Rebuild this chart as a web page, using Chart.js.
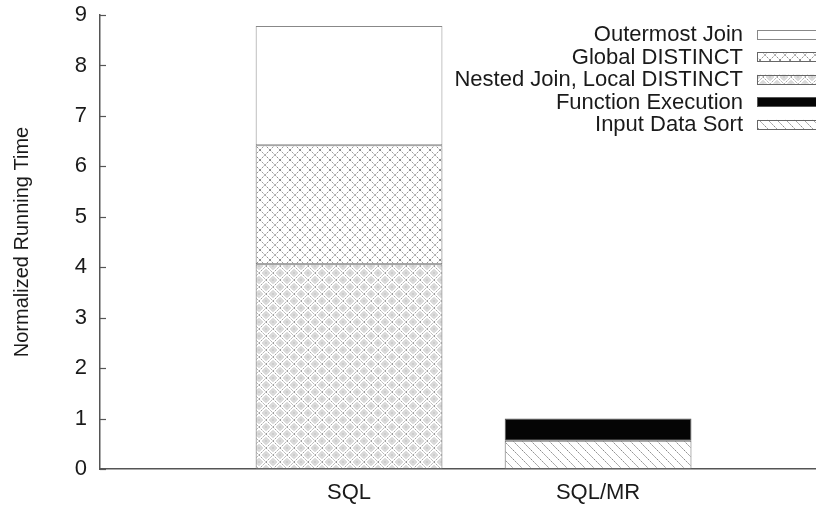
<!DOCTYPE html>
<html>
<head>
<meta charset="utf-8">
<script src="https://cdn.jsdelivr.net/npm/chart.js@4/dist/chart.umd.min.js"></script>
<style>
  html, body { margin: 0; padding: 0; background: #fff; overflow: hidden; }
  #wrap { width: 816px; height: 505px; }
</style>
</head>
<body>
<div id="wrap"><canvas id="c" width="816" height="505"></canvas></div>
<script>
// ---- data ----
const categories = ['SQL', 'SQL/MR'];
const categoryX = [1, 2];
const nestedJoinLocalDistinct = [4.06, null];
const globalDistinct = [2.36, null];
const outermostJoin = [2.36, null];
const inputDataSort = [null, 0.56];
const functionExecution = [null, 0.44];
const yTicks = [0, 1, 2, 3, 4, 5, 6, 7, 8, 9];
const yTitle = 'Normalized Running Time';

const FONT = "'Liberation Sans', Arial, Helvetica, sans-serif";

// ---- patterns ----
function tile(size, draw) {
  const cv = document.createElement('canvas');
  cv.width = size; cv.height = size;
  const g = cv.getContext('2d');
  g.fillStyle = '#fff';
  g.fillRect(0, 0, size, size);
  draw(g, size);
  return document.getElementById('c').getContext('2d').createPattern(cv, 'repeat');
}
const patGlobal = tile(10, (g, s) => {
  g.strokeStyle = '#8a8a8a'; g.lineWidth = 1;
  g.setLineDash([1.5, 1]);
  g.beginPath();
  g.moveTo(0, 0); g.lineTo(s, s);
  g.moveTo(0, s); g.lineTo(s, 0);
  g.stroke();
});
const patNested = tile(14, (g, s) => {
  g.strokeStyle = '#9a9a9a'; g.lineWidth = 1;
  g.setLineDash([1.5, 1]);
  g.beginPath();
  g.moveTo(0, 0); g.lineTo(s, s);
  g.moveTo(0, s); g.lineTo(s, 0);
  g.stroke();
  g.setLineDash([]);
  g.strokeStyle = '#b5b5b5';
  const pts = [[s/2, 0], [0, s/2], [s, s/2], [s/2, s]];
  pts.forEach(([x, y]) => {
    g.beginPath();
    g.moveTo(x, y - 3.5); g.lineTo(x + 3.5, y); g.lineTo(x, y + 3.5); g.lineTo(x - 3.5, y); g.closePath();
    g.stroke();
    g.beginPath(); g.arc(x, y, 1.2, 0, Math.PI * 2); g.stroke();
  });
});
const patSort = tile(9, (g, s) => {
  g.strokeStyle = '#8a8a8a'; g.lineWidth = 1;
  g.setLineDash([2, 1]);
  g.beginPath();
  g.moveTo(0, 0); g.lineTo(s, s);
  g.stroke();
});

function pts(arr) { return categoryX.map((x, i) => ({ x: x, y: arr[i] })); }

const datasets = [
  { label: 'Nested Join, Local DISTINCT', data: pts(nestedJoinLocalDistinct), backgroundColor: patNested, borderColor: '#666' },
  { label: 'Global DISTINCT', data: pts(globalDistinct), backgroundColor: patGlobal, borderColor: '#666' },
  { label: 'Outermost Join', data: pts(outermostJoin), backgroundColor: '#ffffff', borderColor: '#888' },
  { label: 'Input Data Sort', data: pts(inputDataSort), backgroundColor: patSort, borderColor: '#666' },
  { label: 'Function Execution', data: pts(functionExecution), backgroundColor: '#050505', borderColor: '#555' }
].map(d => Object.assign(d, { borderWidth: 1, borderSkipped: false, barPercentage: 0.75, categoryPercentage: 1.0 }));

const legendOrder = ['Outermost Join', 'Global DISTINCT', 'Nested Join, Local DISTINCT', 'Function Execution', 'Input Data Sort'];

const bgPlugin = {
  id: 'bg',
  beforeDraw(chart) {
    const ctx = chart.ctx;
    ctx.save(); ctx.fillStyle = '#fff'; ctx.fillRect(0, 0, chart.width, chart.height); ctx.restore();
  }
};

const innerTicks = {
  id: 'innerTicks',
  afterDraw(chart) {
    const ctx = chart.ctx, ys = chart.scales.y, left = chart.chartArea.left;
    ctx.save();
    ctx.strokeStyle = '#555'; ctx.lineWidth = 1.2;
    ys.ticks.forEach(t => {
      const y = Math.round(ys.getPixelForValue(t.value)) + 0.5;
      ctx.beginPath(); ctx.moveTo(left, y); ctx.lineTo(left + 6, y); ctx.stroke();
    });
    ctx.restore();
  }
};

const keyPlugin = {
  id: 'key',
  afterDraw(chart) {
    const ctx = chart.ctx;
    ctx.save();
    ctx.font = '22px ' + FONT;
    ctx.textAlign = 'right';
    ctx.textBaseline = 'middle';
    legendOrder.forEach((name, i) => {
      const ds = chart.data.datasets.find(d => d.label === name);
      const y = 34 + i * 22.6;
      ctx.fillStyle = '#1a1a1a';
      ctx.fillText(name, 743, y + 1);
      ctx.fillStyle = ds.backgroundColor;
      ctx.fillRect(757, y - 4.5, 80, 9);
      ctx.strokeStyle = ds.borderColor; ctx.lineWidth = 1;
      ctx.strokeRect(757.5, Math.round(y - 4.5) + 0.5, 80, 9);
    });
    ctx.restore();
  }
};

new Chart(document.getElementById('c'), {
  type: 'bar',
  data: { datasets: datasets },
  plugins: [bgPlugin, innerTicks, keyPlugin],
  options: {
    responsive: false,
    animation: false,
    layout: { padding: { top: 15, right: 0, bottom: 0, left: 0 } },
    plugins: { legend: { display: false }, tooltip: { enabled: false } },
    scales: {
      x: {
        type: 'linear',
        offset: false,
        stacked: true,
        min: 0,
        max: 2.875,
        afterBuildTicks: s => { s.ticks = categoryX.map(v => ({ value: v })); },
        afterFit: s => { s.height = 36; s.paddingLeft = 0; s.paddingRight = 0; },
        ticks: {
          callback: v => { const i = categoryX.indexOf(v); return i >= 0 ? categories[i] : ''; },
          font: { family: FONT, size: 22 }, color: '#1a1a1a', padding: 11, maxRotation: 0, autoSkip: false
        },
        grid: { display: false, drawTicks: false, offset: false },
        border: { display: true, color: '#555', width: 1.5 }
      },
      y: {
        stacked: true,
        min: 0,
        max: 9,
        afterBuildTicks: s => { s.ticks = yTicks.map(v => ({ value: v })); },
        afterFit: s => { s.width = 100; s.paddingTop = 0; s.paddingBottom = 0; },
        ticks: { font: { family: FONT, size: 22 }, color: '#1a1a1a', padding: 13 },
        grid: { display: false, drawTicks: false },
        border: { display: true, color: '#555', width: 1.5 },
        title: { display: true, text: yTitle, font: { family: FONT, size: 20 }, color: '#1a1a1a', padding: { top: 10, bottom: 0 } }
      }
    }
  }
});
</script>
</body>
</html>
